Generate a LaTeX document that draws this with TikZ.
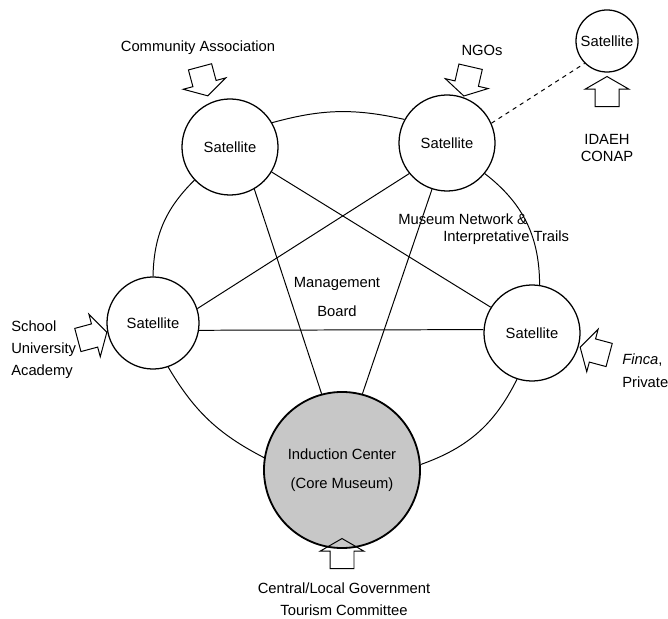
\documentclass[tikz,border=0pt]{standalone}
\usepackage{fontspec}
\setmainfont{Liberation Sans}
\usetikzlibrary{shapes.arrows}
\begin{document}
\begin{tikzpicture}[x=0.025cm,y=0.025cm,
  sat/.style={circle,draw,line width=0.9pt,inner sep=0pt,minimum size=2.4cm,font=\fontsize{10.5}{12}\selectfont},
  feed/.style={single arrow,draw,line width=0.7pt,inner xsep=0pt,inner ysep=0.2875cm,minimum height=0.75cm,
    single arrow head extend=0.25cm,single arrow tip angle=120,single arrow head indent=0pt},
  lbl/.style={font=\fontsize{10.5}{15.6}\selectfont,inner sep=0pt},
  link/.style={line width=0.7pt}]
\useasboundingbox (0,0) rectangle (668,618);
% satellites and core
\node[sat] (tl) at (230,471) {Satellite};
\node[sat] (tr) at (447,475) {Satellite};
\node[sat,minimum size=2.3cm] (ls) at (153,295) {Satellite};
\node[sat] (rs) at (532,285) {Satellite};
\node[sat,minimum size=1.55cm] (ss) at (607,577) {Satellite};
\node[sat,minimum size=3.9cm,line width=1.3pt,fill=black!22,align=center,
  font=\fontsize{10.5}{21}\selectfont] (ic) at (342,148) {Induction Center\\(Core Museum)};
% ring
\draw[link] (tl.30) to[bend left=14] (tr.151);
\draw[link] (tl.-137) to[bend right=22] (ls.90);
\draw[link] (tr.-39) to[bend left=26] (rs.81);
\draw[link] (ls.-71) to[bend right=16] (ic.171);
\draw[link] (rs.-108) to[bend left=22] (ic.4);
% cross links
\draw[link] (tl.-31) -- (rs.148);
\draw[link] (tr.-141) -- (ls.18);
\draw[link] (tl.-60) -- (ic.105);
\draw[link] (tr.-108) -- (ic.75);
\draw[link] (ls.-9) -- (rs.176);
\draw[link,dashed] (tr.24) -- (ss.-135);
% inputs
\node[feed,rotate=-75] (caarrow) at (203,540) {};
\node[feed,rotate=-103] (ngoarrow) at (468,540) {};
\node[feed,rotate=90] (idarrow) at (607,523) {};
\node[feed,rotate=15] (scarrow) at (89,281) {};
\node[feed,rotate=165] (fiarrow) at (598,266) {};
\node[feed,rotate=90] (goarrow) at (342,61) {};
% labels
\node[lbl] (ca) at (198,570) {Community Association};
\node[lbl] (ngo) at (482,568) {NGOs};
\node[lbl,align=center,font=\fontsize{10.5}{12}\selectfont] (id) at (607,470) {IDAEH\\CONAP};
\node[lbl,align=left,anchor=west] (sc) at (11,268) {School\\University\\Academy};
\node[lbl,align=left,anchor=west,font=\fontsize{10.5}{16.4}\selectfont] (fi) at (622,247) {\textit{Finca},\\Private};
\node[lbl,align=center,font=\fontsize{10.5}{20.6}\selectfont] (mb) at (337,321) {Management\\Board};
\node[lbl,anchor=west] (mn) at (398,399) {Museum Network \&};
\node[lbl,anchor=west] (it) at (443,380) {Interpretative Trails};
\node[lbl,align=center] (go) at (344,19) {Central/Local Government\\Tourism Committee};
\end{tikzpicture}
\end{document}
